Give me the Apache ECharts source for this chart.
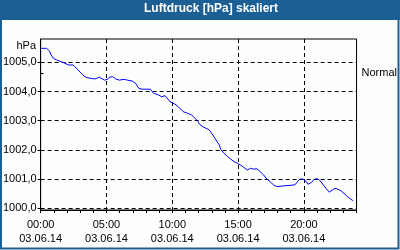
<!DOCTYPE html>
<html><head><meta charset="utf-8">
<script src="https://cdn.jsdelivr.net/npm/echarts@6/dist/echarts.min.js"></script>
<style>html,body{margin:0;padding:0;background:#fcfefc}#c{width:400px;height:250px}</style>
</head><body><div id="c"></div>
<script>
const TITLE = 'Luftdruck [hPa] skaliert';
const UNIT = 'hPa';
const DATE_LABEL = '03.06.14';
const NORMAL_LABEL = 'Normal';
const NORMAL_LEVEL = 1004.62;
const hours = [0.05,0.45,0.67,0.80,0.97,1.22,1.47,1.85,2.10,2.47,2.60,2.84,3.09,3.35,3.59,3.84,4.09,4.21,4.47,4.59,4.84,5.09,5.22,5.46,5.71,5.97,6.09,6.34,6.59,6.96,7.21,7.46,7.71,8.33,8.59,8.96,9.21,9.45,9.58,9.83,10.20,10.46,10.83,11.08,11.45,11.70,11.95,12.07,12.33,12.57,12.82,13.08,13.32,13.57,13.70,13.94,14.20,14.45,14.69,14.95,15.19,15.44,15.70,15.94,16.19,16.44,16.69,16.94,17.19,17.44,17.69,17.94,18.06,18.32,18.56,19.31,19.51,19.69,19.93,20.11,20.31,20.56,20.81,21.01,21.18,21.43,21.68,21.93,22.18,22.36,22.55,22.81,23.05,23.30,23.56,23.73];
const pressure = [1005.48,1005.48,1005.39,1005.25,1005.14,1005.08,1005.04,1004.97,1004.91,1004.91,1004.90,1004.74,1004.62,1004.51,1004.47,1004.45,1004.43,1004.47,1004.49,1004.45,1004.39,1004.42,1004.49,1004.51,1004.43,1004.39,1004.39,1004.42,1004.39,1004.36,1004.28,1004.11,1004.08,1004.08,1003.94,1003.88,1003.82,1003.86,1003.80,1003.65,1003.57,1003.48,1003.31,1003.27,1003.20,1003.10,1002.97,1002.88,1002.79,1002.74,1002.68,1002.51,1002.34,1002.17,1002.00,1001.88,1001.77,1001.68,1001.60,1001.54,1001.48,1001.40,1001.31,1001.37,1001.34,1001.35,1001.25,1001.14,1001.00,1000.91,1000.80,1000.74,1000.77,1000.76,1000.77,1000.80,1000.91,1001.00,1001.00,1000.95,1000.82,1000.88,1001.00,1001.01,1000.97,1000.83,1000.68,1000.55,1000.63,1000.68,1000.66,1000.60,1000.51,1000.40,1000.31,1000.26];
const yTicks = [1000,1001,1002,1003,1004,1005];
const xLabelHours = [0,5,10,15,20];
const xTickHours = [0,1,2,3,4,5,6,7,8,9,10,11,12,13,14,15,16,17,18,19,20,21,22,23,24];
const X_MIN = 0, X_MAX = 24, Y_MIN = 999.94, Y_MAX = 1005.8;

const FONT = 'Liberation Sans';
const BLUE = '#1c5f94';
const chart = echarts.init(document.getElementById('c'));
const pad = n => (n < 10 ? '0' : '') + n;
const data = hours.map((h, i) => [h, pressure[i]]);
const dash = [4, 3];

chart.setOption({
  animation: false,
  backgroundColor: '#fcfefc',
  title: {
    text: TITLE, left: 211, textAlign: 'center', top: 3, padding: 0,
    textStyle: { color: '#fff', fontSize: 12, fontWeight: 'bold', fontFamily: FONT }
  },
  grid: { left: 40, top: 39, right: 40, bottom: 40, show: true, borderColor: '#000', borderWidth: 1, backgroundColor: 'transparent' },
  xAxis: [{
    type: 'value', min: X_MIN, max: X_MAX, interval: 5, position: 'bottom',
    axisLine: { show: true, lineStyle: { color: '#000' } },
    axisTick: { show: false },
    axisLabel: {
      color: '#000', fontSize: 11, fontFamily: FONT, margin: 8, lineHeight: 14,
      formatter: v => xLabelHours.includes(v) ? pad(v) + ':00\n' + DATE_LABEL : ''
    },
    splitLine: { show: true, lineStyle: { color: '#000', type: dash, width: 1 } }
  }, {
    type: 'value', min: X_MIN, max: X_MAX, position: 'bottom', offset: 0,
    axisLine: { show: false },
    axisTick: { show: true, length: 3, customValues: xTickHours, lineStyle: { color: '#000' } },
    axisLabel: { show: false },
    splitLine: { show: false }
  }],
  yAxis: [{
    type: 'value', min: Y_MIN, max: Y_MAX, position: 'left',
    axisLine: { show: true, lineStyle: { color: '#000' } },
    axisTick: { show: true, length: 3, customValues: yTicks, lineStyle: { color: '#000' } },
    axisLabel: { customValues: yTicks, color: '#000', fontSize: 11, fontFamily: FONT, margin: 4,
      formatter: v => v.toFixed(1).replace('.', ',') },
    splitLine: { show: true, lineStyle: { color: '#000', type: dash, width: 1 } }
  }, {
    type: 'value', min: Y_MIN, max: Y_MAX, position: 'right',
    axisLine: { show: false },
    axisTick: { show: true, length: 3, customValues: [NORMAL_LEVEL], lineStyle: { color: '#000' } },
    axisLabel: { customValues: [NORMAL_LEVEL], color: '#000', fontSize: 11, fontFamily: FONT, margin: 5,
      formatter: () => NORMAL_LABEL },
    splitLine: { show: false }
  }],
  graphic: [
    { type: 'rect', z: -10, shape: { x: 0, y: 0, width: 400, height: 20 }, style: { fill: BLUE } },
    { type: 'rect', z: 10, shape: { x: 1, y: 1, width: 397.5, height: 247.5 }, style: { fill: 'none', stroke: BLUE, lineWidth: 2 } },
    { type: 'text', z: 10, x: 36, y: 46, style: { text: UNIT, fill: '#000', font: '11px ' + FONT, textAlign: 'right', textVerticalAlign: 'middle' } }
  ],
  series: [{
    type: 'line', xAxisIndex: 0, yAxisIndex: 0, data: data, showSymbol: false, symbol: 'none',
    lineStyle: { color: '#0000ff', width: 1 }, z: 3
  }]
});
</script></body></html>
